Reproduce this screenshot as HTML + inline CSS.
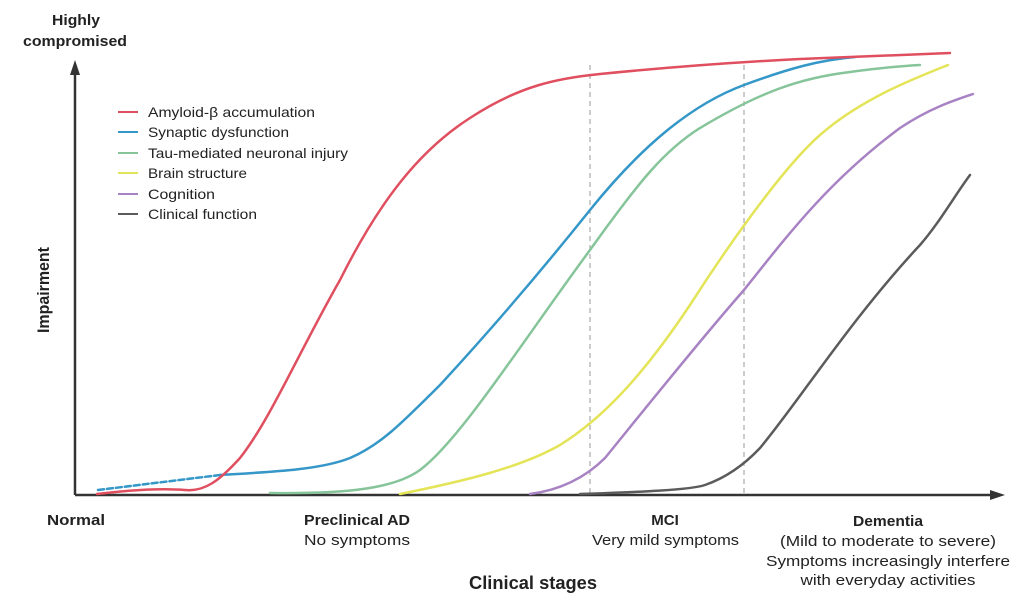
<!DOCTYPE html>
<html><head><meta charset="utf-8"><style>
html,body{margin:0;padding:0;background:#fff}
svg{display:block}
text{font-family:"Liberation Sans",sans-serif;fill:#222}
</style></head><body>
<svg width="1024" height="609" viewBox="0 0 1024 609">
<g stroke="#333" stroke-width="2.5" fill="none">
<line x1="75" y1="495" x2="75" y2="72"/>
<line x1="75" y1="495" x2="992" y2="495"/>
</g>
<polygon points="75,60 70,75 80,75" fill="#333"/>
<polygon points="1005,495 990,490 990,500" fill="#333"/>
<g stroke="#aaa" stroke-width="1.2" stroke-dasharray="5,4">
<line x1="590" y1="65" x2="590" y2="495"/>
<line x1="744" y1="65" x2="744" y2="495"/>
</g>
<g fill="none" stroke-width="2.5" stroke-linecap="round" stroke-linejoin="round">
<path stroke="#5b5b5b" d="M580,494 C640,492 690,490 705,485 C725,478 744,465 760,448 C800,400 850,320 920,245 C940,222 955,195 970,175"/>
<path stroke="#a883c4" d="M530,494 C560,490 585,478 605,458 C640,415 700,340 744,290 C790,232 830,180 900,128 C930,108 955,100 973,94"/>
<path stroke="#e4e458" d="M400,494 C460,482 520,468 560,445 C600,420 640,380 690,305 C720,258 780,170 820,135 C860,100 910,80 948,65"/>
<path stroke="#86c49a" d="M270,493 C350,494 395,488 420,470 C460,440 520,345 590,250 C640,180 665,150 700,128 C760,92 800,78 850,72 C880,68 900,66 920,65"/>
<path stroke="#3497c8" stroke-dasharray="6,3" d="M98,490 L220,475"/>
<path stroke="#3497c8" d="M220,475 C270,472 320,470 350,458 C380,445 400,425 440,385 C500,320 550,260 590,210 C640,148 690,105 744,85 C790,68 820,60 855,57"/>
<path stroke="#e04f5f" d="M97,494 C130,490 160,488 185,490 C205,492 220,480 240,458 C270,420 300,350 340,280 C380,200 420,150 470,118 C520,85 560,78 600,74 C680,66 740,62 800,59 C870,56 920,54 950,53"/>
</g>
<g stroke-width="2">
<line x1="118" y1="112" x2="138" y2="112" stroke="#e04f5f"/>
<line x1="118" y1="132" x2="138" y2="132" stroke="#3497c8"/>
<line x1="118" y1="153" x2="138" y2="153" stroke="#86c49a"/>
<line x1="118" y1="173" x2="138" y2="173" stroke="#e4e458"/>
<line x1="118" y1="194" x2="138" y2="194" stroke="#a883c4"/>
<line x1="118" y1="214" x2="138" y2="214" stroke="#5b5b5b"/>
</g>
<g font-size="14" fill="#333">
<text x="148" y="117" textLength="167" lengthAdjust="spacingAndGlyphs">Amyloid-β accumulation</text>
<text x="148" y="137" textLength="141" lengthAdjust="spacingAndGlyphs">Synaptic dysfunction</text>
<text x="148" y="158" textLength="200" lengthAdjust="spacingAndGlyphs">Tau-mediated neuronal injury</text>
<text x="148" y="178" textLength="99" lengthAdjust="spacingAndGlyphs">Brain structure</text>
<text x="148" y="199" textLength="67" lengthAdjust="spacingAndGlyphs">Cognition</text>
<text x="148" y="219" textLength="109" lengthAdjust="spacingAndGlyphs">Clinical function</text>
</g>
<g font-weight="bold" font-size="15">
<text x="52" y="25" textLength="48" lengthAdjust="spacingAndGlyphs">Highly</text>
<text x="23" y="46" textLength="104" lengthAdjust="spacingAndGlyphs">compromised</text>
</g>
<text transform="translate(49,290) rotate(-90)" text-anchor="middle" font-weight="bold" font-size="17" textLength="86" lengthAdjust="spacingAndGlyphs">Impairment</text>
<g font-size="15">
<text x="47" y="525" font-weight="bold" textLength="58" lengthAdjust="spacingAndGlyphs">Normal</text>
<text x="304" y="525" font-weight="bold" textLength="106" lengthAdjust="spacingAndGlyphs">Preclinical AD</text>
<text x="304" y="545" textLength="106" lengthAdjust="spacingAndGlyphs">No symptoms</text>
<text x="665" y="525" font-weight="bold" text-anchor="middle">MCI</text>
<text x="592" y="545" textLength="147" lengthAdjust="spacingAndGlyphs">Very mild symptoms</text>
<text x="853" y="526" font-weight="bold" textLength="70" lengthAdjust="spacingAndGlyphs">Dementia</text>
<text x="888" y="546" text-anchor="middle" textLength="216" lengthAdjust="spacingAndGlyphs">(Mild to moderate to severe)</text>
<text x="888" y="566" text-anchor="middle" textLength="244" lengthAdjust="spacingAndGlyphs">Symptoms increasingly interfere</text>
<text x="888" y="585" text-anchor="middle" textLength="175" lengthAdjust="spacingAndGlyphs">with everyday activities</text>
</g>
<text x="533" y="589" text-anchor="middle" font-weight="bold" font-size="18" textLength="128" lengthAdjust="spacingAndGlyphs">Clinical stages</text>
</svg>
</body></html>
